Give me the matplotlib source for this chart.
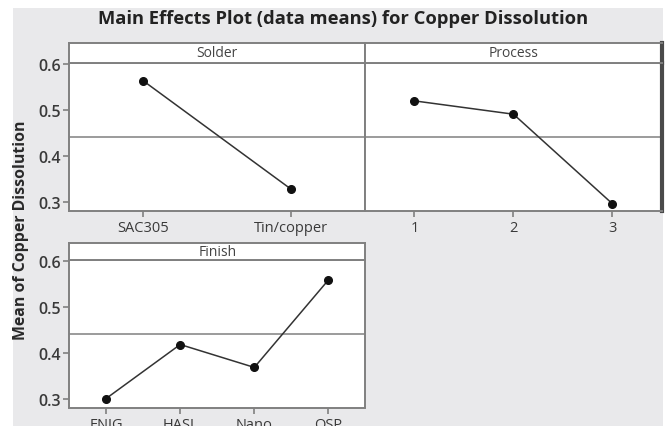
import matplotlib
matplotlib.use('Agg')
import matplotlib.pyplot as plt
from matplotlib.patches import Rectangle

# data
solder_levels = ['SAC305', 'Tin/copper']
solder_means = [0.563, 0.327]
process_levels = ['1', '2', '3']
process_means = [0.519, 0.490, 0.295]
finish_levels = ['ENIG', 'HASL', 'Nano', 'OSP']
finish_means = [0.300, 0.418, 0.368, 0.559]
grand_mean = 0.44
y_ticks = [0.3, 0.4, 0.5, 0.6]

W, H = 668, 427
FRAME = '#808080'
TEXT = '#3a3a3a'
BG = '#e9e9eb'

plt.rcParams['font.family'] = ['Open Sans', 'DejaVu Sans']


def box(x0, y0, x1, y1):
    """pixel box (top-left origin) -> figure fraction rect"""
    return [x0 / W, 1 - y1 / H, (x1 - x0) / W, (y1 - y0) / H]


fig = plt.figure(figsize=(W / 100, H / 100), dpi=100, facecolor='white')
fig.patches.append(Rectangle((13 / W, 0), (663 - 13) / W, 1 - 9 / H,
                             transform=fig.transFigure, facecolor=BG,
                             edgecolor='none', zorder=-10))


def panel(rect, strip_rect, name, levels, means, show_y=True):
    ax = fig.add_axes(box(*rect))
    ax.set_facecolor('white')
    x = list(range(1, len(levels) + 1))
    ax.plot(x, means, color='#333333', lw=1.1, marker='o', ms=5.5,
            mfc='#111111', mec='#111111', zorder=3)
    ax.axhline(grand_mean, color='#8a8a8a', lw=1.2, zorder=2)
    ax.set_xlim(0.5, len(levels) + 0.5)
    ax.set_ylim(0.2805, 0.6025)
    ax.set_xticks(x)
    ax.set_xticklabels(levels, fontsize=10.5, color=TEXT)
    ax.tick_params(axis='x', direction='out', length=4, width=1.2, color=FRAME, pad=3)
    if show_y:
        ax.set_yticks(y_ticks)
        ax.set_yticklabels([f'{v:.1f}' for v in y_ticks], fontsize=11.5,
                           color=TEXT, fontweight='semibold')
        ax.tick_params(axis='y', direction='out', length=4, width=1.2, color=FRAME, pad=2)
    else:
        ax.set_yticks([])
    for s in ax.spines.values():
        s.set_color(FRAME)
        s.set_linewidth(1.4)

    sax = fig.add_axes(box(*strip_rect))
    sax.set_facecolor('white')
    sax.set_xticks([])
    sax.set_yticks([])
    for s in sax.spines.values():
        s.set_color(FRAME)
        s.set_linewidth(1.4)
    sax.text(0.5, 0.5, name, transform=sax.transAxes, ha='center', va='center',
             fontsize=10, color='#444444')
    return ax, sax


panel((69, 63.5, 365, 211.5), (69, 44, 365, 63.5), 'Solder',
      solder_levels, solder_means)
ax_p, sax_p = panel((365, 63.5, 662, 211.5), (365, 44, 662, 63.5), 'Process',
                    process_levels, process_means, show_y=False)
panel((69, 261, 365.5, 408.5), (69, 244, 365.5, 261), 'Finish',
      finish_levels, finish_means)

# darker right border on the Process panel
ax_p.spines['right'].set_color('#4a4a4a')
ax_p.spines['right'].set_linewidth(3)
sax_p.spines['right'].set_color('#4a4a4a')
sax_p.spines['right'].set_linewidth(3)

fig.text(343 / W, 1 - 19 / H, 'Main Effects Plot (data means) for Copper Dissolution',
         ha='center', va='center', fontsize=13.2, fontweight='bold', color='#222222')
fig.text(21 / W, 1 - 230 / H, 'Mean of Copper Dissolution', rotation=90,
         ha='center', va='center', fontsize=11.4, fontweight='bold', color='#2a2a2a')

fig.savefig('out.png', dpi=100, facecolor='white')
